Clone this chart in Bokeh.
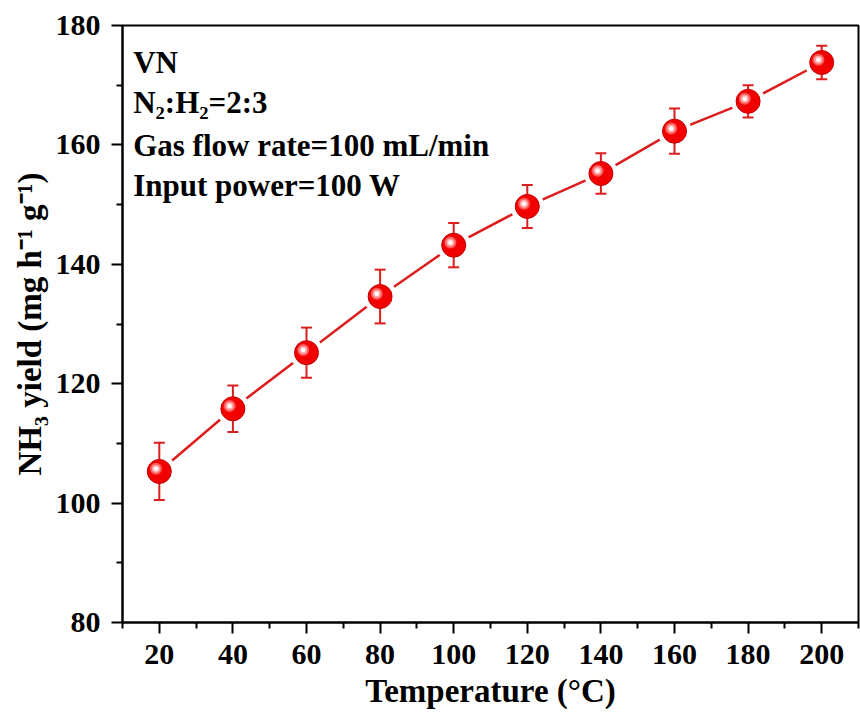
import numpy as np
from bokeh.plotting import figure
from bokeh.models import FixedTicker, Range1d, Label
from bokeh.embed import file_html
from bokeh.resources import INLINE

# ---- data ----
temperature = [20, 40, 60, 80, 100, 120, 140, 160, 180, 200]
nh3_yield = [105.3, 115.8, 125.2, 134.6, 143.2, 149.7, 155.2, 162.3, 167.3, 173.8]
yield_err = [4.8, 3.9, 4.2, 4.5, 3.7, 3.6, 3.4, 3.8, 2.7, 2.8]

x_major_ticks = [20, 40, 60, 80, 100, 120, 140, 160, 180, 200]
x_minor_ticks = [10, 30, 50, 70, 90, 110, 130, 150, 170, 190, 210]
y_major_ticks = [80, 100, 120, 140, 160, 180]
y_minor_ticks = [90, 110, 130, 150, 170]

annotation_lines = ["VN", "N\u2082:H\u2082=2:3", "Gas flow rate=100 mL/min", "Input power=100 W"]
x_title = "Temperature (\u00b0C)"
y_title = "NH\u2083 yield (mg h\u207b\u00b9 g\u207b\u00b9)"

FONT = "Liberation Serif"
LINE_RED = "#dc1e1e"
MARK_RED = "#f20000"

x = np.array(temperature, dtype=float)
y = np.array(nh3_yield, dtype=float)
e = np.array(yield_err, dtype=float)

p = figure(width=860, height=713, output_backend="svg", toolbar_location=None,
           x_range=Range1d(10, 210), y_range=Range1d(80, 180),
           min_border_left=122, min_border_right=2, min_border_top=25, min_border_bottom=91)
p.background_fill_color = "white"
p.border_fill_color = "white"
p.xgrid.visible = False
p.ygrid.visible = False
p.outline_line_color = "black"
p.outline_line_width = 2

p.xaxis.ticker = FixedTicker(ticks=x_major_ticks, minor_ticks=x_minor_ticks)
p.yaxis.ticker = FixedTicker(ticks=y_major_ticks, minor_ticks=y_minor_ticks)

for ax in (p.xaxis[0], p.yaxis[0]):
    ax.axis_line_width = 2
    ax.axis_line_color = "black"
    ax.major_tick_line_width = 2
    ax.minor_tick_line_width = 2
    ax.major_tick_out = 11
    ax.major_tick_in = 0
    ax.minor_tick_out = 6
    ax.minor_tick_in = 0
    ax.major_label_text_font = FONT
    ax.major_label_text_font_style = "bold"
    ax.major_label_text_font_size = "30px"
    ax.major_label_text_color = "black"
    ax.axis_label_text_font = FONT
    ax.axis_label_text_font_style = "bold"
    ax.axis_label_text_font_size = "33px"
    ax.axis_label_text_color = "black"

p.xaxis.axis_label = x_title
p.yaxis.axis_label = y_title
p.xaxis.major_label_standoff = 11
p.yaxis.major_label_standoff = 11
p.xaxis.axis_label_standoff = 6
p.yaxis.axis_label_standoff = 5

# connecting line
p.line(x, y, line_color=LINE_RED, line_width=2.5)
# white halo to create gaps around the markers
p.scatter(x, y, size=34, marker="circle", fill_color="white", line_color=None)
# error bars
p.segment(x0=x, y0=y - e, x1=x, y1=y + e, line_color=LINE_RED, line_width=2)
p.scatter(x, y + e, marker="dash", size=11, line_color=LINE_RED, line_width=2)
p.scatter(x, y - e, marker="dash", size=11, line_color=LINE_RED, line_width=2)
# sphere-like markers
p.scatter(x, y, size=24, marker="circle", fill_color=MARK_RED, line_color="#c40000", line_width=1)
hx = x - 0.9
hy = y + 0.45
p.scatter(hx, hy, size=12, marker="circle", fill_color="#ff5a5a", line_color=None)
p.scatter(hx, hy, size=8, marker="circle", fill_color="#ffaaaa", line_color=None)
p.scatter(hx, hy, size=4.5, marker="circle", fill_color="white", line_color=None)

# annotation text block (top-left)
baselines = [173.8, 167.1, 159.9, 153.2]
for txt, yb in zip(annotation_lines, baselines):
    p.add_layout(Label(x=12.9, y=yb, text=txt, text_font=FONT, text_font_style="bold",
                       text_font_size="31px", text_color="black", text_baseline="alphabetic",
                       text_align="left"))

open("out.html", "w").write(file_html(p, INLINE))
